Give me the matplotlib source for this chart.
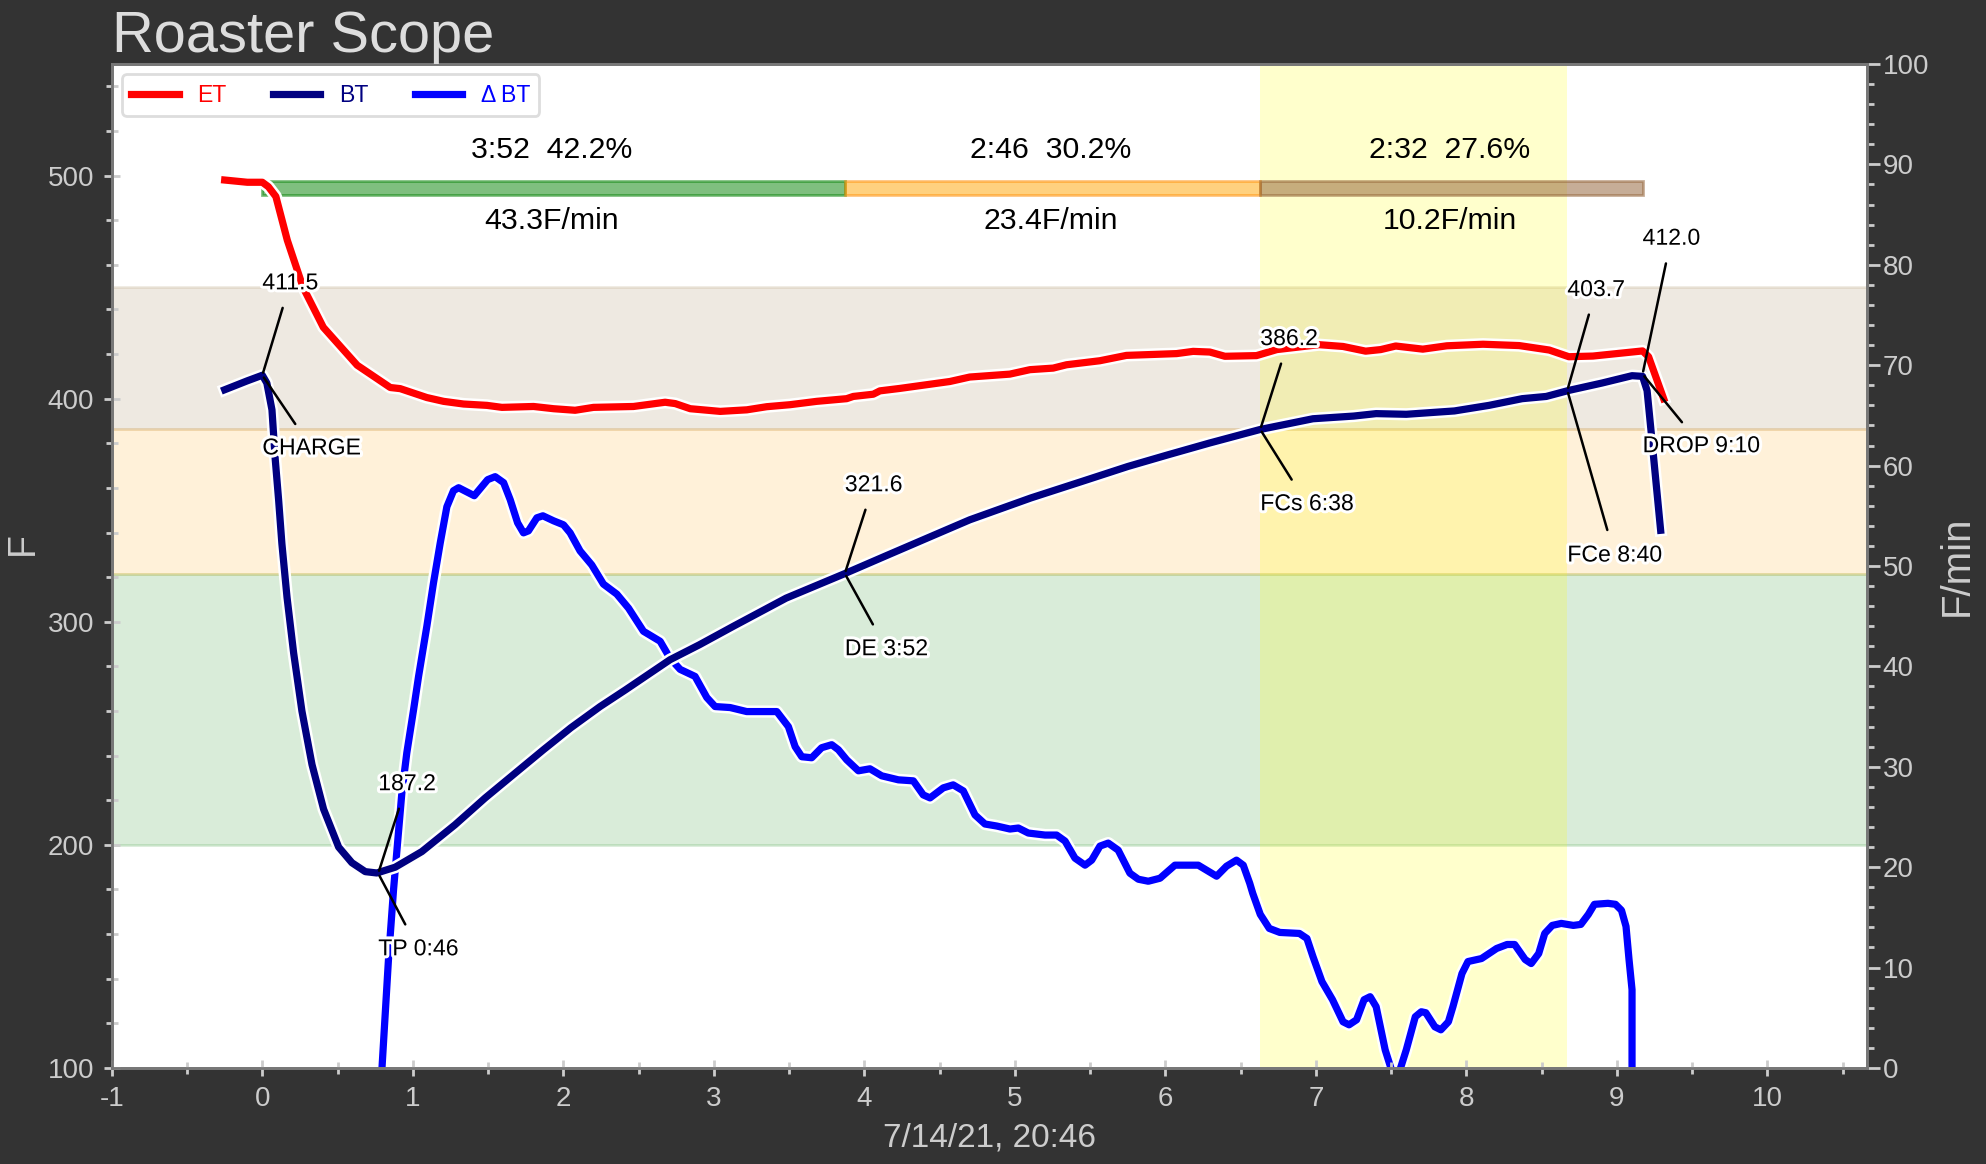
import matplotlib.pyplot as plt
import matplotlib.patheffects as pe
from matplotlib.ticker import MultipleLocator

# Dados
et_t = [-0.25, -0.1, 0, 0.04, 0.09, 0.166, 0.27, 0.405, 0.63, 0.85, 0.916, 1.093, 1.204, 1.337, 1.492, 1.592, 1.802, 1.935, 2.078, 2.2, 2.466, 2.676, 2.743, 2.843, 3.042, 3.219, 3.351, 3.506, 3.683, 3.882, 3.926, 4.059, 4.103, 4.236, 4.568, 4.7, 4.966, 5.1, 5.254, 5.343, 5.564, 5.741, 6.074, 6.184, 6.295, 6.395, 6.605, 6.74, 7.02, 7.18, 7.33, 7.43, 7.53, 7.71, 7.87, 8.11, 8.35, 8.55, 8.68, 8.84, 9.17, 9.21, 9.31]
et = [498, 497, 497, 495, 490.6, 471, 450, 432, 415, 405, 404.5, 400.5, 398.8, 397.6, 397, 396.1, 396.5, 395.5, 394.8, 396.1, 396.5, 398.4, 397.8, 395.5, 394.3, 395, 396.4, 397.3, 398.8, 400, 401, 402, 403.5, 404.6, 407.7, 409.7, 411, 413, 413.7, 415.2, 417, 419.4, 420.2, 421.2, 420.9, 419, 419.3, 422, 424.2, 423.4, 421.3, 422, 423.6, 422.2, 423.7, 424.4, 423.8, 421.8, 418.8, 419.1, 421.4, 418.8, 400]
bt_t = [-0.25, -0.1, 0, 0.03, 0.064, 0.086, 0.108, 0.13, 0.164, 0.208, 0.263, 0.33, 0.407, 0.507, 0.595, 0.684, 0.761, 0.883, 1.06, 1.28, 1.48, 1.867, 2.05, 2.244, 2.413, 2.709, 2.904, 3.13, 3.48, 3.87, 4.158, 4.496, 4.7, 5.106, 5.445, 5.75, 6.02, 6.292, 6.63, 6.98, 7.25, 7.4, 7.6, 7.92, 8.15, 8.37, 8.53, 8.68, 8.9, 9.1, 9.17, 9.2, 9.23, 9.29]
bt = [404, 408, 410.5, 407, 395, 372.6, 354.8, 335, 311, 286, 260, 236, 216, 199, 192, 188, 187.4, 190, 197, 209, 221, 242.6, 252.5, 262, 269.5, 283, 289.7, 298, 310.6, 321.6, 330, 339.8, 345.7, 355.5, 362.9, 369.6, 374.9, 380.1, 386.2, 391, 392.2, 393.3, 393, 394.5, 397, 400, 401, 403.7, 407, 410.3, 410, 403.6, 383, 341]
dbt_t = [0.795, 0.838, 0.872, 0.927, 0.96, 1.005, 1.038, 1.093, 1.137, 1.182, 1.226, 1.27, 1.304, 1.408, 1.497, 1.547, 1.603, 1.647, 1.696, 1.735, 1.768, 1.824, 1.864, 1.935, 2.001, 2.045, 2.111, 2.189, 2.266, 2.355, 2.433, 2.532, 2.643, 2.709, 2.776, 2.875, 2.953, 3.008, 3.108, 3.218, 3.418, 3.495, 3.54, 3.584, 3.65, 3.716, 3.783, 3.827, 3.882, 3.96, 4.037, 4.115, 4.226, 4.325, 4.391, 4.436, 4.524, 4.59, 4.657, 4.735, 4.801, 4.879, 4.967, 5.023, 5.089, 5.2, 5.277, 5.333, 5.399, 5.466, 5.51, 5.565, 5.62, 5.686, 5.764, 5.82, 5.886, 5.964, 6.063, 6.218, 6.34, 6.406, 6.472, 6.517, 6.56, 6.58, 6.63, 6.69, 6.76, 6.89, 6.94, 6.98, 7.04, 7.11, 7.18, 7.22, 7.27, 7.32, 7.36, 7.4, 7.46, 7.5, 7.53, 7.56, 7.6, 7.66, 7.7, 7.73, 7.79, 7.83, 7.88, 7.91, 7.97, 8.01, 8.1, 8.2, 8.27, 8.32, 8.39, 8.43, 8.48, 8.52, 8.57, 8.63, 8.71, 8.76, 8.81, 8.85, 8.94, 8.99, 9.03, 9.06, 9.08, 9.1, 9.1, 9.105]
dbt = [0, 10.8, 17.8, 27.4, 31.4, 35.7, 39, 44, 48.3, 52.3, 55.9, 57.5, 57.8, 57, 58.6, 58.9, 58.3, 56.6, 54.3, 53.3, 53.5, 54.8, 55, 54.5, 54.1, 53.3, 51.5, 50.1, 48.2, 47.2, 45.8, 43.5, 42.5, 40.8, 39.7, 39, 36.9, 36, 35.9, 35.5, 35.5, 34, 32, 31, 30.9, 31.9, 32.2, 31.7, 30.7, 29.6, 29.8, 29.1, 28.7, 28.6, 27.2, 26.9, 27.9, 28.2, 27.6, 25.2, 24.3, 24.1, 23.8, 23.9, 23.4, 23.2, 23.2, 22.6, 20.9, 20.2, 20.7, 22.1, 22.4, 21.7, 19.4, 18.8, 18.6, 18.9, 20.2, 20.2, 19.1, 20.1, 20.7, 20.2, 18.4, 17.4, 15.3, 13.9, 13.5, 13.4, 12.9, 11.1, 8.6, 6.8, 4.6, 4.3, 4.8, 6.8, 7.1, 6.1, 1.8, -0.1, -1, -0.1, 1.8, 5.1, 5.6, 5.5, 4.1, 3.8, 4.6, 6.1, 9.4, 10.6, 10.9, 11.9, 12.3, 12.3, 10.8, 10.4, 11.4, 13.4, 14.2, 14.4, 14.2, 14.3, 15.3, 16.3, 16.4, 16.3, 15.7, 14.1, 10.8, 7.8, 0, -5]
marcas_t = [3.87, 6.63, 8.67, 9.17]
faixas = [200, 321.6, 386.2, 450]

plt.rcParams['font.family'] = ['Liberation Sans', 'DejaVu Sans']
plt.rcParams['axes.unicode_minus'] = False

# Criando o gráfico
plt.figure(figsize=(9.93, 5.82), dpi=200, facecolor='#333333')
plt.subplots_adjust(left=0.0563, right=0.9400, top=0.9450, bottom=0.0825)
ax = plt.gca()

# Contorno branco das curvas e dos textos
contorno = [pe.withStroke(linewidth=4.4, foreground='white')]
contorno_txt = [pe.withStroke(linewidth=2.2, foreground='white')]

# Barra das fases
plt.barh(494.5, marcas_t[0], left=0, height=6.5, color='green', edgecolor='green', alpha=0.5, lw=1)
plt.barh(494.5, marcas_t[1] - marcas_t[0], left=marcas_t[0], height=6.5, color='orange', edgecolor='darkorange', alpha=0.5, lw=1)
plt.barh(494.5, marcas_t[3] - marcas_t[1], left=marcas_t[1], height=6.5, color='#8f5d30', edgecolor='#8f5d30', alpha=0.5, lw=1)

# Curvas de temperatura
plt.plot(et_t, et, color='red', lw=2.6, path_effects=contorno, label='ET', zorder=5)
plt.plot(bt_t, bt, color='navy', lw=2.6, path_effects=contorno, label='BT', zorder=6)

# Configurando os eixos
plt.xlim(-1, 10.66)
plt.ylim(100, 550)
plt.xticks(range(-1, 11), color='#cccccc', fontsize=10)
plt.yticks([100, 200, 300, 400, 500], color='#cccccc', fontsize=10)
ax.xaxis.set_minor_locator(MultipleLocator(0.5))
ax.yaxis.set_minor_locator(MultipleLocator(20))
plt.tick_params(which='major', direction='inout', length=5.8, width=1, color='#cccccc')
plt.tick_params(which='minor', direction='inout', length=4.3, width=1, color='#cccccc')
plt.tick_params(axis='x', which='major', pad=3.5)
plt.xlabel('7/14/21, 20:46', fontsize=12, color='#cccccc', labelpad=4)
plt.ylabel('F', fontsize=13.5, color='#cccccc', labelpad=2.3, y=0.522)
plt.title('Roaster Scope', fontsize=20.8, color='#dddddd', loc='left', pad=0)
for lado in ax.spines.values():
    lado.set_color('#777777')
    lado.set_linewidth(1)

# Tempos e taxas das fases
plt.text(1.92, 511.5, '3:52  42.2%', ha='center', va='center', fontsize=10.9, color='black')
plt.text(5.24, 511.5, '2:46  30.2%', ha='center', va='center', fontsize=10.9, color='black')
plt.text(7.89, 511.5, '2:32  27.6%', ha='center', va='center', fontsize=10.9, color='black')
plt.text(1.92, 479.5, '43.3F/min', ha='center', va='center', fontsize=10.9, color='black')
plt.text(5.24, 479.5, '23.4F/min', ha='center', va='center', fontsize=10.9, color='black')
plt.text(7.89, 479.5, '10.2F/min', ha='center', va='center', fontsize=10.9, color='black')

# Anotações dos eventos
seta = dict(arrowstyle='-', color='black', lw=0.9, shrinkA=3, shrinkB=1)
plt.annotate('411.5', xy=(0, 410.5), xytext=(0, 449), arrowprops=seta, fontsize=8.3, path_effects=contorno_txt, zorder=8)
plt.annotate('CHARGE', xy=(0, 410.5), xytext=(0, 375), arrowprops=seta, fontsize=8.3, path_effects=contorno_txt, zorder=8)
plt.annotate('187.2', xy=(0.77, 187.2), xytext=(0.77, 224.5), arrowprops=seta, fontsize=8.3, path_effects=contorno_txt, zorder=8)
plt.annotate('TP 0:46', xy=(0.77, 187.2), xytext=(0.77, 150.5), arrowprops=seta, fontsize=8.3, path_effects=contorno_txt, zorder=8)
plt.annotate('321.6', xy=(3.87, 321.6), xytext=(3.87, 358.5), arrowprops=seta, fontsize=8.3, path_effects=contorno_txt, zorder=8)
plt.annotate('DE 3:52', xy=(3.87, 321.6), xytext=(3.87, 285), arrowprops=seta, fontsize=8.3, path_effects=contorno_txt, zorder=8)
plt.annotate('386.2', xy=(6.63, 386.2), xytext=(6.63, 424), arrowprops=seta, fontsize=8.3, path_effects=contorno_txt, zorder=8)
plt.annotate('FCs 6:38', xy=(6.63, 386.2), xytext=(6.63, 350), arrowprops=seta, fontsize=8.3, path_effects=contorno_txt, zorder=8)
plt.annotate('403.7', xy=(8.67, 403.7), xytext=(8.67, 446), arrowprops=seta, fontsize=8.3, path_effects=contorno_txt, zorder=8)
plt.annotate('FCe 8:40', xy=(8.67, 403.7), xytext=(8.67, 327), arrowprops=seta, fontsize=8.3, path_effects=contorno_txt, zorder=8)
plt.annotate('412.0', xy=(9.17, 411), xytext=(9.17, 469), arrowprops=seta, fontsize=8.3, path_effects=contorno_txt, zorder=8)
plt.annotate('DROP 9:10', xy=(9.17, 411), xytext=(9.17, 376), arrowprops=seta, fontsize=8.3, path_effects=contorno_txt, zorder=8)

# Segundo eixo para a taxa de subida
ax2 = plt.twinx()

# Faixas das fases (no segundo eixo, para ficar sob as curvas)
plt.axhspan((faixas[0] - 100) / 4.5, (faixas[1] - 100) / 4.5, color='green', alpha=0.15)
plt.axhspan((faixas[1] - 100) / 4.5, (faixas[2] - 100) / 4.5, color='orange', alpha=0.15)
plt.axhspan((faixas[2] - 100) / 4.5, (faixas[3] - 100) / 4.5, color='#a08050', alpha=0.17)
plt.axvspan(marcas_t[1], marcas_t[2], color='yellow', alpha=0.2, lw=0)

plt.plot(dbt_t, dbt, color='blue', lw=2.6, path_effects=contorno, label='\u0394BT')
plt.ylim(0, 100)
plt.yticks(range(0, 101, 10), color='#cccccc', fontsize=10)
ax2.yaxis.set_minor_locator(MultipleLocator(2))
plt.tick_params(which='major', direction='out', length=4.7, width=1, color='#cccccc', pad=1)
plt.tick_params(which='minor', direction='out', length=2.5, width=1, color='#cccccc')
plt.ylabel('F/min', fontsize=14.5, color='#cccccc', labelpad=3)
for lado in ax2.spines.values():
    lado.set_color('#777777')
    lado.set_linewidth(1)

# ET e BT por cima da taxa
ax.set_zorder(ax2.get_zorder() + 1)
ax.patch.set_visible(False)
ax2.patch.set_visible(True)
ax2.patch.set_facecolor('white')

# Exibindo a legenda
linhas = ax.get_lines() + ax2.get_lines()
leg = ax.legend(linhas, ['ET', 'BT', '\u0394\u2009BT'], loc='upper left', ncol=3, fontsize=8.3, labelcolor='linecolor', framealpha=1, edgecolor='#dddddd', borderaxespad=0.45, columnspacing=2.03, handlelength=2.05)
leg.set_zorder(20)

# Salvando o gráfico
plt.savefig('out.png', dpi=200, facecolor='#333333')
